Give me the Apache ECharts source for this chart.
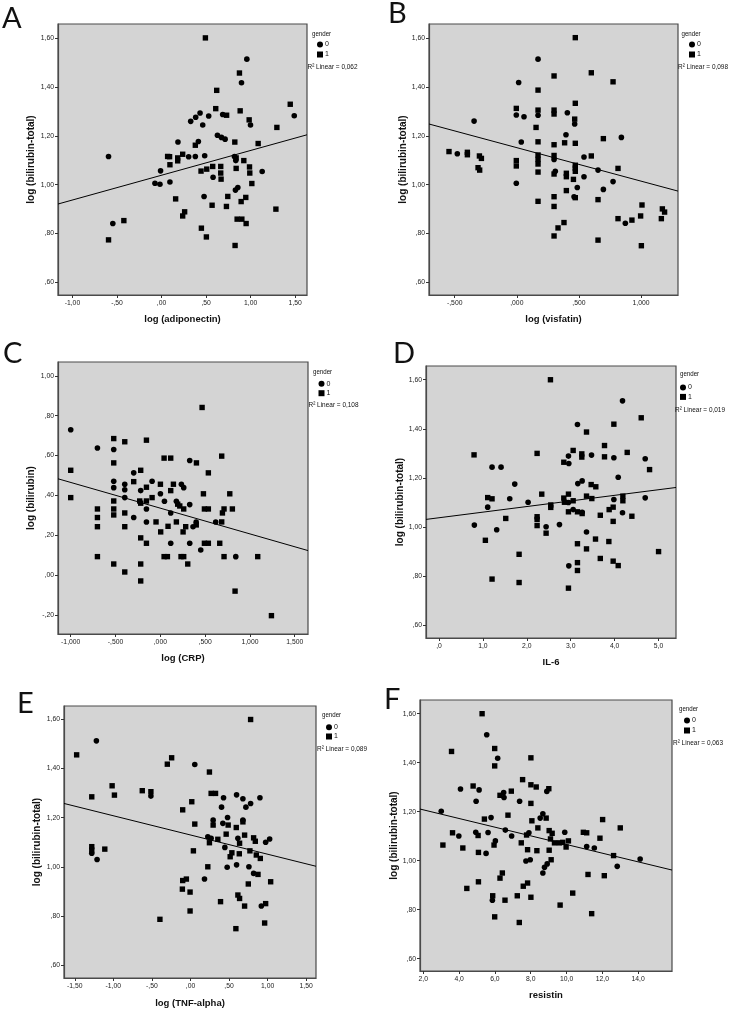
<!DOCTYPE html>
<html><head><meta charset="utf-8">
<script src="https://cdn.jsdelivr.net/npm/echarts@6/dist/echarts.min.js"></script>
<style>html,body{margin:0;padding:0;background:#fff}#c{width:733px;height:1010px}</style>
</head><body><div id="c"></div>
<script>
// ---------- DATA ----------
// Panel A: log(adiponectin) vs log(bilirubin-total)
const adiponectin_g0 = [[0.957,1.515],[0.897,1.418],[0.686,1.288],[0.998,1.245],[0.432,1.294],[0.383,1.277],[0.327,1.260],[0.529,1.282],[0.462,1.245],[0.627,1.203],[0.672,1.194],[0.713,1.187],[0.184,1.175],[0.413,1.177],[-0.595,1.116],[-0.011,1.057],[0.304,1.115],[0.379,1.116],[0.484,1.119],[0.818,1.116],[0.833,1.099],[1.129,1.054],[0.578,1.031],[-0.074,1.006],[-0.018,1.002],[0.094,1.011],[0.477,0.952],[0.829,0.978],[0.856,0.989],[-0.547,0.841],[1.489,1.283]];
const adiponectin_g1 = [[0.492,1.602],[0.874,1.458],[0.619,1.387],[1.444,1.330],[0.608,1.312],[0.882,1.303],[0.730,1.285],[0.983,1.266],[1.294,1.235],[0.822,1.175],[1.084,1.169],[0.379,1.162],[0.068,1.116],[0.090,1.115],[0.094,1.082],[0.181,1.098],[0.237,1.125],[0.923,1.099],[0.987,1.073],[0.990,1.048],[1.013,1.005],[0.837,1.067],[0.443,1.056],[0.507,1.064],[0.574,1.075],[0.664,1.075],[0.664,1.048],[0.668,1.023],[0.158,0.942],[0.567,0.916],[0.728,0.911],[0.743,0.952],[0.945,0.948],[0.893,0.931],[1.283,0.900],[0.259,0.889],[0.237,0.872],[0.848,0.859],[0.901,0.859],[0.949,0.841],[-0.423,0.853],[-0.595,0.774],[0.447,0.822],[0.503,0.786],[0.825,0.751],[0.181,1.110],[0.837,1.110]];
// Panel B: log(visfatin)
const visfatin_g0 = [[0.171,1.515],[0.015,1.419],[-0.344,1.261],[-0.004,1.286],[0.058,1.279],[0.171,1.285],[0.407,1.295],[0.466,1.249],[0.396,1.205],[0.842,1.194],[0.036,1.175],[-0.479,1.127],[0.300,1.104],[0.541,1.114],[0.310,1.055],[0.541,1.033],[0.654,1.060],[0.775,1.013],[-0.004,1.006],[0.487,0.989],[0.697,0.981],[0.461,0.951],[0.874,0.842]];
const visfatin_g1 = [[0.471,1.603],[0.600,1.459],[0.300,1.446],[0.775,1.422],[0.171,1.388],[0.471,1.334],[-0.004,1.313],[0.171,1.306],[0.300,1.306],[0.300,1.290],[0.466,1.269],[0.155,1.235],[0.697,1.189],[0.171,1.176],[0.300,1.164],[0.385,1.172],[0.471,1.170],[-0.546,1.136],[-0.398,1.133],[-0.398,1.123],[-0.301,1.118],[-0.285,1.108],[-0.312,1.070],[-0.299,1.060],[-0.004,1.099],[-0.004,1.077],[0.171,1.122],[0.171,1.104],[0.171,1.085],[0.171,1.052],[0.300,1.120],[0.600,1.118],[0.471,1.080],[0.471,1.055],[0.300,1.044],[0.399,1.047],[0.399,1.033],[0.456,1.022],[0.815,1.067],[0.399,0.976],[0.300,0.951],[0.471,0.947],[0.654,0.939],[0.171,0.932],[0.300,0.911],[1.008,0.917],[1.172,0.901],[1.190,0.888],[0.815,0.861],[0.927,0.855],[0.997,0.872],[1.164,0.861],[0.380,0.845],[0.332,0.823],[0.300,0.790],[0.654,0.773],[1.003,0.750],[0.471,1.068]];
// Panel C: log(CRP) vs log(bilirubin)
const crp_g0 = [[-1.0,0.729],[-0.702,0.638],[-0.520,0.630],[0.328,0.575],[-0.297,0.513],[-0.520,0.471],[-0.520,0.439],[-0.397,0.456],[-0.397,0.428],[-0.219,0.424],[-0.092,0.471],[0.235,0.456],[0.261,0.439],[-0.397,0.389],[-0.155,0.332],[0.001,0.408],[0.046,0.371],[0.179,0.371],[0.328,0.354],[-0.297,0.289],[0.116,0.312],[-0.155,0.267],[0.365,0.243],[0.618,0.267],[0.116,0.160],[0.328,0.160],[0.451,0.126],[0.842,0.093],[0.400,0.267]];
const crp_g1 = [[0.466,0.841],[-0.520,0.685],[-0.397,0.669],[-0.155,0.677],[-1.0,0.526],[-0.520,0.563],[0.042,0.587],[0.116,0.587],[0.403,0.563],[0.685,0.597],[0.536,0.513],[-0.219,0.526],[-0.297,0.469],[-0.155,0.441],[0.001,0.456],[0.146,0.456],[0.116,0.424],[-1.0,0.389],[-0.520,0.372],[-0.520,0.332],[-0.230,0.372],[-0.155,0.372],[-0.092,0.389],[0.194,0.356],[0.217,0.347],[0.261,0.332],[0.481,0.408],[0.775,0.408],[0.492,0.332],[0.536,0.332],[0.711,0.332],[0.804,0.332],[0.693,0.312],[-0.702,0.332],[-0.702,0.289],[-0.702,0.243],[-0.397,0.312],[-0.048,0.267],[0.179,0.267],[0.086,0.245],[0.283,0.243],[0.685,0.267],[0.254,0.217],[-0.397,0.243],[-0.219,0.187],[-0.155,0.160],[0.004,0.217],[0.492,0.160],[0.536,0.160],[0.663,0.160],[-0.702,0.093],[0.042,0.093],[0.079,0.093],[0.231,0.093],[0.261,0.093],[0.711,0.093],[1.087,0.093],[-0.520,0.056],[-0.219,0.056],[0.306,0.056],[-0.397,0.016],[-0.219,-0.029],[0.834,-0.080],[1.240,-0.203],[-0.219,0.361],[-0.520,0.302],[0.401,0.252]];
// Panel D: IL-6
const il6_g0 = [[4.179,1.514],[3.153,1.418],[2.948,1.289],[2.956,1.259],[3.473,1.293],[3.982,1.282],[4.696,1.278],[1.208,1.244],[1.413,1.244],[1.725,1.175],[3.260,1.188],[3.161,1.177],[4.081,1.203],[1.611,1.115],[2.029,1.101],[1.109,1.081],[2.948,1.100],[3.982,1.112],[4.696,1.119],[3.055,1.071],[4.179,1.058],[0.805,1.008],[1.314,0.989],[2.439,1.001],[2.743,1.010],[3.359,0.980],[2.956,0.842],[3.260,1.060]];
const il6_g1 = [[2.538,1.600],[4.605,1.445],[3.982,1.419],[3.359,1.387],[3.769,1.332],[0.798,1.294],[2.234,1.300],[3.055,1.312],[2.842,1.264],[3.252,1.298],[3.252,1.285],[3.769,1.286],[4.286,1.304],[4.795,1.234],[3.465,1.173],[3.571,1.164],[2.340,1.134],[2.948,1.134],[1.109,1.120],[1.208,1.115],[2.842,1.118],[2.857,1.101],[3.055,1.107],[3.359,1.126],[3.480,1.116],[4.187,1.126],[4.187,1.107],[2.545,1.080],[2.545,1.090],[2.948,1.062],[3.153,1.062],[3.260,1.055],[3.673,1.048],[3.875,1.071],[3.966,1.081],[4.392,1.044],[2.234,1.042],[2.234,1.031],[1.520,1.035],[2.234,1.006],[2.439,0.975],[3.966,1.023],[1.056,0.946],[3.564,0.951],[3.868,0.941],[3.153,0.932],[3.359,0.911],[5.0,0.900],[1.824,0.889],[3.673,0.872],[3.966,0.861],[4.081,0.843],[3.153,0.855],[3.153,0.823],[1.208,0.788],[1.824,0.774],[2.948,0.751]];
// Panel E: log(TNF-alpha)
const tnf_g0 = [[-1.220,1.513],[0.056,1.417],[-0.513,1.288],[0.429,1.281],[0.598,1.293],[0.680,1.277],[0.780,1.258],[0.719,1.243],[0.901,1.281],[0.403,1.243],[0.481,1.201],[0.294,1.190],[0.420,1.177],[0.225,1.122],[0.268,1.116],[0.615,1.116],[0.975,1.100],[1.027,1.113],[0.446,1.079],[0.598,1.008],[0.476,0.998],[0.758,1.000],[0.819,0.973],[-1.280,1.055],[-1.211,1.030],[0.182,0.950],[0.919,0.840],[0.680,1.190]];
const tnf_g1 = [[0.780,1.600],[-1.476,1.456],[-0.244,1.444],[-0.300,1.418],[0.246,1.386],[-1.016,1.330],[-0.986,1.292],[-1.280,1.285],[-0.625,1.310],[-0.513,1.306],[0.268,1.299],[0.325,1.299],[0.017,1.265],[-0.101,1.232],[0.294,1.170],[0.056,1.174],[0.489,1.170],[0.680,1.183],[0.594,1.160],[0.463,1.133],[0.355,1.112],[0.246,1.098],[0.702,1.129],[0.637,1.096],[0.819,1.118],[0.841,1.104],[0.537,1.057],[0.515,1.041],[0.633,1.053],[0.771,1.065],[0.854,1.048],[0.906,1.034],[0.225,1.000],[0.876,0.969],[0.038,1.065],[-1.280,1.082],[-1.280,1.068],[-1.111,1.072],[-0.053,0.950],[-0.101,0.944],[-0.105,0.909],[-0.005,0.897],[1.040,0.939],[0.750,0.930],[0.615,0.885],[0.637,0.871],[0.702,0.840],[0.390,0.858],[0.975,0.850],[-0.005,0.820],[-0.396,0.786],[0.962,0.771],[0.589,0.748]];
// Panel F: resistin
const resistin_g0 = [[5.542,1.514],[6.154,1.418],[8.899,1.283],[5.116,1.289],[4.077,1.293],[6.488,1.278],[6.507,1.258],[4.949,1.243],[7.378,1.243],[3.001,1.202],[5.783,1.176],[8.528,1.174],[8.677,1.192],[3.984,1.101],[4.930,1.116],[5.616,1.115],[6.581,1.125],[6.933,1.101],[7.898,1.114],[9.900,1.116],[11.125,1.058],[11.551,1.052],[6.024,1.081],[5.505,1.030],[7.731,0.999],[7.972,1.004],[14.111,1.007],[12.831,0.977],[8.769,0.973],[8.677,0.950],[8.918,0.987],[5.858,0.839]];
const resistin_g1 = [[5.283,1.600],[3.576,1.446],[5.987,1.458],[5.987,1.387],[8.009,1.420],[7.545,1.331],[8.009,1.310],[8.306,1.301],[9.010,1.294],[4.782,1.305],[6.283,1.267],[6.915,1.284],[8.009,1.234],[6.729,1.186],[5.412,1.170],[8.064,1.163],[8.862,1.174],[8.398,1.134],[3.632,1.114],[5.060,1.103],[7.768,1.105],[9.029,1.123],[9.196,1.112],[10.939,1.116],[11.125,1.114],[12.015,1.168],[13.000,1.134],[11.866,1.092],[3.094,1.064],[4.207,1.052],[5.950,1.064],[7.471,1.073],[9.103,1.089],[9.326,1.073],[9.604,1.073],[9.789,1.075],[10.105,1.081],[9.975,1.056],[7.824,1.045],[8.343,1.041],[9.029,1.043],[5.079,1.034],[9.140,1.004],[12.627,1.021],[6.414,0.950],[6.283,0.929],[11.199,0.944],[12.108,0.939],[5.079,0.914],[4.430,0.887],[7.824,0.909],[7.583,0.896],[10.345,0.868],[5.876,0.857],[6.562,0.839],[7.248,0.857],[8.009,0.851],[9.641,0.819],[11.403,0.784],[5.987,0.771],[7.360,0.748]];

// Linear fits: [intercept, slope]
const fitA = [1.039, 0.1016];
const fitB = [1.152, -0.1372];
const fitC = [0.336, -0.129];
const fitD = [1.0378, 0.02284];
const fitE = [1.1296, -0.0783];
const fitF = [1.2431, -0.01769];

const r2Values = ['0,062','0,098','0,108','0,019','0,089','0,063'];
const panelLetters = ['A','B','C','D','E','F'];
const xTitles = ['log (adiponectin)','log (visfatin)','log (CRP)','IL-6','log (TNF-alpha)','resistin'];
const yTitles = ['log (bilirubin-total)','log (bilirubin-total)','log (bilirubin)','log (bilirubin-total)','log (bilirubin-total)','log (bilirubin-total)'];
const legendTitle = 'gender';
const groupNames = ['0','1'];

// tick values
const yTicksTotal = [0.6,0.8,1.0,1.2,1.4,1.6];
const yTicksBili = [-0.2,0,0.2,0.4,0.6,0.8,1.0];
const xTicksA = [-1,-0.5,0,0.5,1,1.5];
const xTicksB = [-0.5,0,0.5,1];
const xTicksC = [-1,-0.5,0,0.5,1,1.5];
const xTicksD = [0,1,2,3,4,5];
const xTicksE = [-1.5,-1,-0.5,0,0.5,1,1.5];
const xTicksF = [2,4,6,8,10,12,14];

// ---------- LAYOUT ----------
const panels = [
  {g0:adiponectin_g0,g1:adiponectin_g1,fit:fitA,xt:xTicksA,yt:yTicksTotal,xd:2,yd:2,
   grid:[58,24,249,271],x:[-1.162,1.632],y:[0.548,1.659],letter:[2,20.5],leg:[317,41,3],gen:[312,34],r2:[307.5,66.7],xg:19.5,yg:21.5},
  {g0:visfatin_g0,g1:visfatin_g1,fit:fitB,xt:xTicksB,yt:yTicksTotal,xd:3,yd:2,
   grid:[429,24,249,271],x:[-0.707,1.298],y:[0.548,1.659],letter:[388,15.5],leg:[689,41,3],gen:[681.5,33.5],r2:[678,66.7],xg:19.5,yg:20.5},
  {g0:crp_g0,g1:crp_g1,fit:fitC,xt:xTicksC,yt:yTicksBili,xd:3,yd:2,
   grid:[58,362,250,272],x:[-1.142,1.648],y:[-0.295,1.069],letter:[3,355],leg:[318.5,380.3,2.4],gen:[313,372],r2:[308.5,405],xg:19.5,yg:21.5},
  {g0:il6_g0,g1:il6_g1,fit:fitD,xt:xTicksD,yt:yTicksTotal,xd:1,yd:2,
   grid:[426,366,250,272],x:[-0.296,5.397],y:[0.548,1.656],letter:[393,355],leg:[680,384,2.4],gen:[680,373.5],r2:[675,410],xg:19,yg:19.5},
  {g0:tnf_g0,g1:tnf_g1,fit:fitE,xt:xTicksE,yt:yTicksTotal,xd:2,yd:2,
   grid:[64,706,252,272],x:[-1.640,1.628],y:[0.547,1.655],letter:[17,705],leg:[326,723.7,2.3],gen:[322,715],r2:[317,749.3],xg:20,yg:22},
  {g0:resistin_g0,g1:resistin_g1,fit:fitF,xt:xTicksF,yt:yTicksTotal,xd:1,yd:2,
   grid:[420,700,252,271],x:[1.815,15.89],y:[0.55,1.656],letter:[384,701],leg:[684,717,3],gen:[679,708.5],r2:[673,742.7],xg:19,yg:20}
];

const tickFont = "'Liberation Sans',Arial,sans-serif";
const titleFont = "'Liberation Sans',Arial,sans-serif";
function fmt(d){
  return function(v){
    let s = Math.abs(v).toFixed(d).replace('.', ',');
    if (s.indexOf('0,') === 0) s = s.slice(1);
    return (v < -1e-9 ? '-' : '') + s;
  };
}

const grids=[], xAxes=[], yAxes=[], series=[], legends=[], graphics=[];
panels.forEach((p,i)=>{
  grids.push({left:p.grid[0],top:p.grid[1],width:p.grid[2],height:p.grid[3],show:true,
    backgroundColor:'#d4d4d4',borderColor:'#4a4a4a',borderWidth:1.2,containLabel:false,outerBoundsMode:'none'});
  const axisCommon = {
    gridIndex:i, type:'value', splitLine:{show:false},
    axisLine:{show:true,onZero:false,lineStyle:{color:'#4a4a4a',width:1.2}},
    nameLocation:'middle'
  };
  xAxes.push(Object.assign({}, axisCommon, {
    min:p.x[0], max:p.x[1], name:xTitles[i], nameGap:p.xg,
    nameTextStyle:{fontFamily:titleFont,fontWeight:'bold',color:'#111',fontSize:9.5},
    axisTick:{show:true,length:3,inside:false,customValues:p.xt,lineStyle:{color:'#333',width:1}},
    axisLabel:{customValues:p.xt,formatter:fmt(p.xd),fontFamily:tickFont,fontSize:6.8,color:'#222',margin:5}
  }));
  yAxes.push(Object.assign({}, axisCommon, {
    min:p.y[0], max:p.y[1], name:yTitles[i], nameGap:p.yg,
    nameTextStyle:{fontFamily:titleFont,fontWeight:'bold',color:'#111',fontSize:10},
    axisTick:{show:true,length:3,inside:false,customValues:p.yt,lineStyle:{color:'#333',width:1}},
    axisLabel:{customValues:p.yt,formatter:fmt(p.yd),fontFamily:tickFont,fontSize:6.8,color:'#222',margin:4}
  }));
  series.push({type:'scatter',name:groupNames[0],xAxisIndex:i,yAxisIndex:i,data:p.g0,
    symbol:'circle',symbolSize:5.6,itemStyle:{color:'#000',opacity:1},silent:true});
  series.push({type:'scatter',name:groupNames[1],xAxisIndex:i,yAxisIndex:i,data:p.g1,
    symbol:'rect',symbolSize:5.4,itemStyle:{color:'#000',opacity:1},silent:true});
  const a=p.fit[0], b=p.fit[1];
  series.push({type:'line',name:'fit'+i,xAxisIndex:i,yAxisIndex:i,
    data:[[p.x[0],a+b*p.x[0]],[p.x[1],a+b*p.x[1]]],
    showSymbol:false,symbol:'none',lineStyle:{color:'#000',width:1},silent:true,z:3});
  legends.push({left:p.leg[0],top:p.leg[1],orient:'vertical',data:groupNames,selectedMode:false,
    itemWidth:6,itemHeight:6,itemGap:p.leg[2],padding:0,
    textStyle:{fontFamily:tickFont,fontSize:7,color:'#111',padding:[0,0,0,-3]}});
  graphics.push({type:'text',left:p.letter[0],top:p.letter[1]-16,
    style:{text:panelLetters[i],font:'29px Lato, "Open Sans", sans-serif',fill:'#111'}});
  graphics.push({type:'text',x:p.gen[0],y:p.gen[1],scaleX:0.82,
    style:{text:legendTitle,font:'7.5px '+tickFont,fill:'#111',verticalAlign:'middle'}});
  graphics.push({type:'text',x:p.r2[0],y:p.r2[1],scaleX:0.86,
    style:{text:'R\u00b2 Linear = '+r2Values[i],font:'7.5px '+tickFont,fill:'#111',verticalAlign:'middle'}});
});

const chart = echarts.init(document.getElementById('c'), null, {renderer:'canvas'});
chart.setOption({
  animation:false,
  backgroundColor:'#ffffff',
  grid:grids, xAxis:xAxes, yAxis:yAxes, series:series, legend:legends, graphic:graphics
});
</script></body></html>
